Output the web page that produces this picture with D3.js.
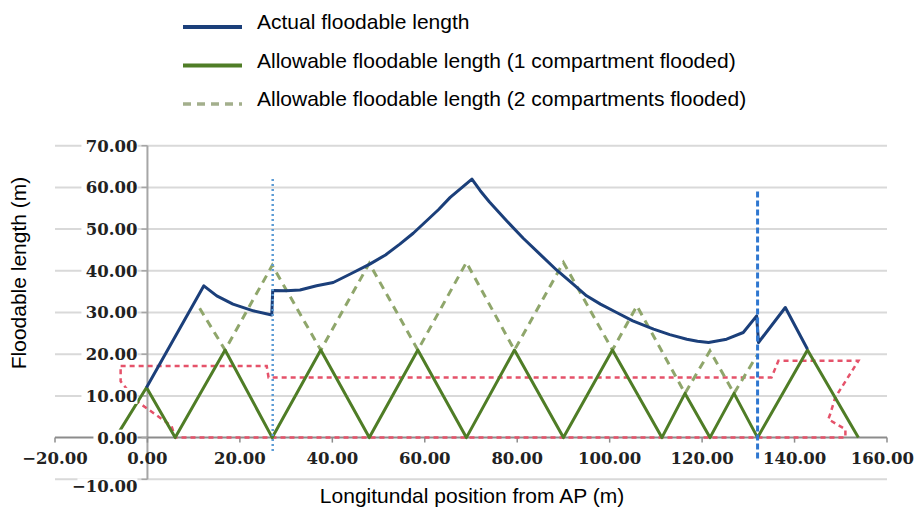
<!DOCTYPE html>
<html>
<head>
<meta charset="utf-8">
<script src="https://cdn.jsdelivr.net/npm/d3@7"></script>
<style>
  body { margin: 0; background: #fff; }
  svg { display: block; }
</style>
</head>
<body>
<svg width="917" height="507"></svg>
<script>
// actual floodable length (blue)
const actualX = [-0.2, 12.2, 15, 18.5, 22.9, 26.9, 27.1, 30, 33, 36.6, 40.2, 44, 48.1, 51.5, 54.6, 57.5, 60.4, 63, 65.5, 70.2, 72, 74, 77.7, 81.3, 84.9, 88.5, 92.1, 95, 98, 101.5, 105, 109.5, 113, 116.7, 119, 121.4, 125.3, 128.9, 131.8, 132.2, 138, 142.8];
const actualY = [12, 36.4, 34, 32, 30.4, 29.4, 35.3, 35.2, 35.4, 36.4, 37.2, 39.3, 41.6, 43.8, 46.4, 49, 52, 54.7, 57.6, 62, 59.2, 56.5, 52, 47.8, 44, 40.2, 36.8, 34, 32, 30, 28, 26, 24.7, 23.6, 23.1, 22.8, 23.6, 25.2, 29.2, 22.8, 31.2, 21.2];

// allowable, 1 compartment flooded (green solid)
const oneCompX = [-6.9, -0.2, 6, 16.8, 27, 37.5, 48, 58.5, 69, 79.4, 90, 100.6, 111.3, 116.3, 121.7, 126.9, 132, 142.8, 153.8];
const oneCompY = [0, 12, 0, 21, 0, 21, 0, 21, 0, 21, 0, 21, 0, 10.6, 0, 10.6, 0, 21, 0];

// allowable, 2 compartments flooded (green dashed)
const twoCompX = [11.3, 16.8, 27, 37.5, 48, 58.5, 69, 79.4, 90, 100.6, 105.9, 116.3, 121.7, 126.9, 131.8];
const twoCompY = [31, 21, 41.3, 21, 41.8, 21, 42, 21, 42, 21, 31.6, 10.6, 20.8, 10.6, 19.6];

// hull / bulkhead deck outline (red dashed)
const outlineX = [-5.8, 25.8, 26.2, 135, 136.5, 153.8, 148.8, 147.7, 147.3, 151, 151, 6, 5.2, -2.4, -5.8, -5.8];
const outlineY = [17.2, 17.2, 14.4, 14.4, 18.4, 18.4, 9.6, 5.6, 4.4, 2, 0, 0, 2.8, 8.8, 13.5, 17.2];

// bulkhead markers
const aftPos = 27.1, aftRange = [-3.2, 62];
const fwdPos = 132, fwdRange = [-5, 59];

const xTicks = [-20, 0, 20, 40, 60, 80, 100, 120, 140, 160];
const yTicks = [-10, 0, 10, 20, 30, 40, 50, 60, 70];

const legendLabels = [
  "Actual floodable length",
  "Allowable floodable length (1 compartment flooded)",
  "Allowable floodable length (2 compartments flooded)"
];

const svg = d3.select("svg");
const x = d3.scaleLinear().domain([-20, 160]).range([55, 887]);
const y = d3.scaleLinear().domain([-10, 70]).range([479.3, 145.7]);
const fmt = d3.format(".2f");
const tickFont = "'DejaVu Serif', serif";
const textFont = "'Liberation Sans', Arial, sans-serif";

// gridlines
svg.append("g").selectAll("line")
  .data(yTicks.filter(d => d !== 0))
  .join("line")
  .attr("x1", x(-20)).attr("x2", x(160))
  .attr("y1", d => y(d)).attr("y2", d => y(d))
  .attr("stroke", "#d9d9d9").attr("stroke-width", 2);

// y axis line
svg.append("line")
  .attr("x1", x(0)).attr("x2", x(0))
  .attr("y1", y(70)).attr("y2", y(-10))
  .attr("stroke", "#a6a6a6").attr("stroke-width", 2);

// x axis line at 0
svg.append("line")
  .attr("x1", x(-20)).attr("x2", x(160))
  .attr("y1", y(0)).attr("y2", y(0))
  .attr("stroke", "#8c8c8c").attr("stroke-width", 2);

// x ticks
svg.append("g").selectAll("line")
  .data(xTicks)
  .join("line")
  .attr("x1", d => x(d)).attr("x2", d => x(d))
  .attr("y1", y(0)).attr("y2", y(0) + 5)
  .attr("stroke", "#8c8c8c").attr("stroke-width", 1.5);

// y ticks
svg.append("g").selectAll("line")
  .data(yTicks)
  .join("line")
  .attr("x1", x(0) - 6).attr("x2", x(0))
  .attr("y1", d => y(d)).attr("y2", d => y(d))
  .attr("stroke", "#a6a6a6").attr("stroke-width", 1.5);

const line = d3.line().x(d => x(d[0])).y(d => y(d[1]));
const pts = (xs, ys) => xs.map((v, i) => [v, ys[i]]);

// red outline
svg.append("path")
  .attr("d", line(pts(outlineX, outlineY)))
  .attr("fill", "none").attr("stroke", "#e5526a").attr("stroke-width", 2.5)
  .attr("stroke-dasharray", "5,4");

// 2 compartments
svg.append("path")
  .attr("d", line(pts(twoCompX, twoCompY)))
  .attr("fill", "none").attr("stroke", "#8fa66b").attr("stroke-width", 3)
  .attr("stroke-dasharray", "8,6");

// 1 compartment
svg.append("path")
  .attr("d", line(pts(oneCompX, oneCompY)))
  .attr("fill", "none").attr("stroke", "#4f7d26").attr("stroke-width", 3)
  .attr("stroke-linejoin", "round");

// actual
svg.append("path")
  .attr("d", line(pts(actualX, actualY)))
  .attr("fill", "none").attr("stroke", "#1b3f7a").attr("stroke-width", 3)
  .attr("stroke-linejoin", "round");

// bulkhead markers
svg.append("line")
  .attr("x1", x(aftPos)).attr("x2", x(aftPos))
  .attr("y1", y(aftRange[1])).attr("y2", y(aftRange[0]))
  .attr("stroke", "#5b9bd5").attr("stroke-width", 2.5)
  .attr("stroke-dasharray", "2,3");
svg.append("line")
  .attr("x1", x(fwdPos)).attr("x2", x(fwdPos))
  .attr("y1", y(fwdRange[1])).attr("y2", y(fwdRange[0]))
  .attr("stroke", "#2f77d0").attr("stroke-width", 3)
  .attr("stroke-dasharray", "6,3");

// y tick labels (with white backing like the original)
const yl = svg.append("g").selectAll("g")
  .data(yTicks)
  .join("g")
  .attr("transform", d => `translate(${x(0) - 10},${y(d) + (d === -10 ? 7 : 0)})`);
yl.append("rect")
  .attr("x", d => d === -10 ? -60 : (d === 0 ? -44 : -56))
  .attr("y", -8).attr("height", 16)
  .attr("width", d => d === -10 ? 60 : (d === 0 ? 44 : 56))
  .attr("fill", "#fff");
yl.append("text")
  .attr("text-anchor", "end").attr("dy", "0.36em")
  .attr("font-family", tickFont).attr("font-weight", "bold")
  .attr("font-size", 16.5).attr("fill", "#222")
  .text(d => fmt(d));

// x tick labels (last one kept inside the frame)
svg.append("g").selectAll("text")
  .data(xTicks)
  .join("text")
  .attr("x", d => d === 160 ? 914 : x(d)).attr("y", y(0) + 20)
  .attr("text-anchor", d => d === 160 ? "end" : "middle").attr("dy", "0.36em")
  .attr("font-family", tickFont).attr("font-weight", "bold")
  .attr("font-size", 16.5).attr("fill", "#222")
  .text(d => fmt(d));

// axis titles
svg.append("text")
  .attr("x", 472).attr("y", 503)
  .attr("text-anchor", "middle")
  .attr("font-family", textFont).attr("font-size", 21).attr("fill", "#000")
  .text("Longitundal position from AP (m)");
svg.append("text")
  .attr("transform", "translate(26,273) rotate(-90)")
  .attr("text-anchor", "middle")
  .attr("font-family", textFont).attr("font-size", 21).attr("fill", "#000")
  .text("Floodable length (m)");

// legend
const legendStyles = [
  { stroke: "#1b3f7a", width: 4, dash: null },
  { stroke: "#4f7d26", width: 4, dash: null },
  { stroke: "#a3af8c", width: 3.5, dash: "8,6" }
];
const lg = svg.append("g").selectAll("g")
  .data(legendLabels)
  .join("g")
  .attr("transform", (d, i) => `translate(183,${27 + i * 38.5})`);
lg.append("line")
  .attr("x1", 0).attr("x2", 59)
  .attr("stroke", (d, i) => legendStyles[i].stroke)
  .attr("stroke-width", (d, i) => legendStyles[i].width)
  .attr("stroke-dasharray", (d, i) => legendStyles[i].dash);
lg.append("text")
  .attr("x", 74).attr("dy", "0.1em")
  .attr("font-family", textFont).attr("font-size", 21).attr("fill", "#000")
  .text(d => d);
</script>
</body>
</html>
